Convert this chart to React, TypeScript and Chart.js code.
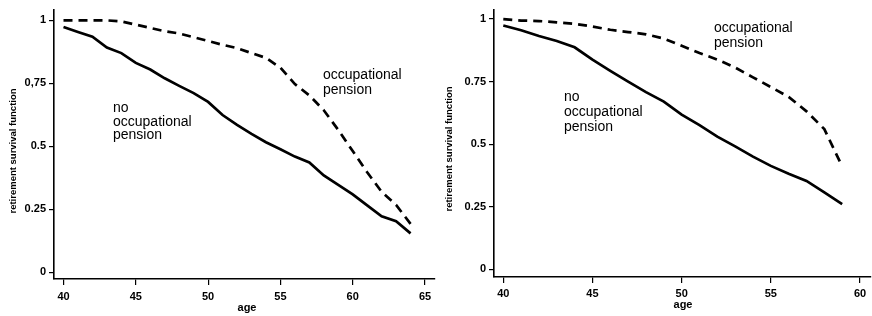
import React, { useEffect, useRef } from "react";
import { Chart, registerables } from "chart.js";

Chart.register(...registerables);

// ---- data ----
const leftAges = [40, 41, 42, 43, 44, 45, 46, 47, 48, 49, 50, 51, 52, 53, 54, 55, 56, 57, 58, 59, 60, 61, 62, 63, 64];
const leftNoOcc = [0.974, 0.954, 0.935, 0.892, 0.87, 0.831, 0.805, 0.77, 0.74, 0.711, 0.676, 0.624, 0.585, 0.549, 0.516, 0.488, 0.459, 0.436, 0.384, 0.347, 0.309, 0.265, 0.222, 0.202, 0.154];
const leftOcc = [1.0, 1.0, 1.0, 1.0, 0.996, 0.983, 0.97, 0.957, 0.948, 0.933, 0.918, 0.903, 0.89, 0.87, 0.851, 0.812, 0.747, 0.702, 0.643, 0.565, 0.481, 0.397, 0.319, 0.267, 0.192];

const rightAges = [40, 41, 42, 43, 44, 45, 46, 47, 48, 49, 50, 51, 52, 53, 54, 55, 56, 57, 58, 59];
const rightNoOcc = [0.974, 0.955, 0.932, 0.912, 0.887, 0.838, 0.793, 0.75, 0.708, 0.67, 0.618, 0.576, 0.53, 0.491, 0.45, 0.413, 0.382, 0.353, 0.307, 0.26];
const rightOcc = [1.0, 0.994, 0.992, 0.987, 0.981, 0.97, 0.957, 0.948, 0.939, 0.922, 0.893, 0.864, 0.838, 0.806, 0.767, 0.728, 0.689, 0.631, 0.56, 0.411];

const leftXTicks = [40, 45, 50, 55, 60, 65];
const rightXTicks = [40, 45, 50, 55, 60];
const yTicks = [0, 0.25, 0.5, 0.75, 1];
const leftYLabels = ["0", "0.25", "0.5", "0,75", "1"];
const rightYLabels = ["0", "0.25", "0.5", "0.75", "1"];

const yTitle = "retirement survival function";
const xTitle = "age";
const labelNo = ["no", "occupational", "pension"];
const labelOcc = ["occupational", "pension"];

const FONT = "'Liberation Sans', Arial, Helvetica, sans-serif";

type PanelCfg = {
  ages: number[];
  noOcc: number[];
  occ: number[];
  xTicks: number[];
  yLabels: string[];
  xMin: number;
  xMax: number;
  yMin: number;
  yMax: number;
  yWidth: number;
  xHeight: number;
  padTop: number;
  padRight: number;
  xTickPad: number;
  yTitleY: number;
  xTitleX: number;
  xTitleY: number;
  noPos: [number, number];
  noLine: number;
  occPos: [number, number];
  occLine: number;
};

function Panel({ cfg, width, left }: { cfg: PanelCfg; width: number; left: number }) {
  const ref = useRef<HTMLCanvasElement | null>(null);
  useEffect(() => {
    if (!ref.current) return;
    const textPlugin = {
      id: "texts",
      afterDraw(chart: any) {
        const ctx = chart.ctx;
        ctx.save();
        ctx.fillStyle = "#000";
        // y title
        ctx.font = `bold 9.5px ${FONT}`;
        ctx.textAlign = "center";
        ctx.textBaseline = "middle";
        ctx.save();
        ctx.translate(13, cfg.yTitleY);
        ctx.rotate(-Math.PI / 2);
        ctx.fillText(yTitle, 0, 0);
        ctx.restore();
        // x title
        ctx.font = `bold 11px ${FONT}`;
        ctx.fillText(xTitle, cfg.xTitleX, cfg.xTitleY);
        // annotations
        ctx.font = `14px ${FONT}`;
        ctx.textAlign = "left";
        ctx.textBaseline = "alphabetic";
        labelNo.forEach((t, i) => ctx.fillText(t, cfg.noPos[0], cfg.noPos[1] + i * cfg.noLine));
        labelOcc.forEach((t, i) => ctx.fillText(t, cfg.occPos[0], cfg.occPos[1] + i * cfg.occLine));
        ctx.restore();
      },
    };
    const chart = new Chart(ref.current, {
      type: "line",
      data: {
        datasets: [
          {
            label: "no occupational pension",
            data: cfg.ages.map((a, i) => ({ x: a, y: cfg.noOcc[i] })),
            borderColor: "#000",
            borderWidth: 2.7,
            pointRadius: 0,
            tension: 0,
            fill: false,
          },
          {
            label: "occupational pension",
            data: cfg.ages.map((a, i) => ({ x: a, y: cfg.occ[i] })),
            borderColor: "#000",
            borderWidth: 2.7,
            borderDash: [9, 6],
            pointRadius: 0,
            tension: 0,
            fill: false,
          },
        ],
      },
      options: {
        animation: false,
        responsive: false,
        maintainAspectRatio: false,
        devicePixelRatio: 1,
        layout: { padding: { top: cfg.padTop, right: cfg.padRight, left: 0, bottom: 0 } },
        plugins: { legend: { display: false }, tooltip: { enabled: false }, title: { display: false } },
        scales: {
          x: {
            type: "linear",
            min: cfg.xMin,
            max: cfg.xMax,
            afterBuildTicks: (s: any) => {
              s.ticks = cfg.xTicks.map((v) => ({ value: v }));
            },
            afterFit: (s: any) => {
              s.height = cfg.xHeight;
            },
            ticks: {
              autoSkip: false,
              maxRotation: 0,
              padding: cfg.xTickPad,
              color: "#000",
              font: { family: FONT, size: 11, weight: "bold" },
              callback: (v: any) => String(v),
            },
            grid: { drawOnChartArea: false, drawTicks: true, tickLength: 6, color: "#000", lineWidth: 1.2 },
            border: { display: true, color: "#000", width: 1.6 },
          },
          y: {
            type: "linear",
            min: cfg.yMin,
            max: cfg.yMax,
            afterBuildTicks: (s: any) => {
              s.ticks = yTicks.map((v) => ({ value: v }));
            },
            afterFit: (s: any) => {
              s.width = cfg.yWidth;
            },
            ticks: {
              autoSkip: false,
              padding: 3,
              color: "#000",
              font: { family: FONT, size: 11, weight: "bold" },
              callback: (v: any) => {
                const i = yTicks.indexOf(Number(v));
                return i >= 0 ? cfg.yLabels[i] : "";
              },
            },
            grid: { drawOnChartArea: false, drawTicks: true, tickLength: 5, color: "#000", lineWidth: 1.2 },
            border: { display: true, color: "#000", width: 1.6 },
          },
        },
      } as any,
      plugins: [textPlugin],
    });
    return () => chart.destroy();
  }, []);
  return (
    <canvas
      ref={ref}
      width={width}
      height={316}
      style={{ position: "absolute", left, top: 0, width, height: 316 }}
    />
  );
}

const leftCfg: PanelCfg = {
  ages: leftAges,
  noOcc: leftNoOcc,
  occ: leftOcc,
  xTicks: leftXTicks,
  yLabels: leftYLabels,
  xMin: 39.343,
  xMax: 65.69,
  yMin: -0.0272,
  yMax: 1.0428,
  yWidth: 54,
  xHeight: 37,
  padTop: 4,
  padRight: 5,
  xTickPad: 5,
  yTitleY: 151,
  xTitleX: 247,
  xTitleY: 308,
  noPos: [113, 112],
  noLine: 13.5,
  occPos: [323, 79],
  occLine: 14.5,
};

const rightCfg: PanelCfg = {
  ages: rightAges,
  noOcc: rightNoOcc,
  occ: rightOcc,
  xTicks: rightXTicks,
  yLabels: rightYLabels,
  xMin: 39.479,
  xMax: 60.617,
  yMin: -0.0311,
  yMax: 1.0377,
  yWidth: 58,
  xHeight: 39,
  padTop: 2,
  padRight: 1,
  xTickPad: 4,
  yTitleY: 149,
  xTitleX: 247,
  xTitleY: 305,
  noPos: [128, 101],
  noLine: 15,
  occPos: [278, 32],
  occLine: 15,
};

export default function App() {
  return (
    <div style={{ position: "fixed", left: 0, top: 0, width: 872, height: 316, background: "#fff" }}>
      <Panel cfg={leftCfg} width={440} left={0} />
      <Panel cfg={rightCfg} width={436} left={436} />
    </div>
  );
}
